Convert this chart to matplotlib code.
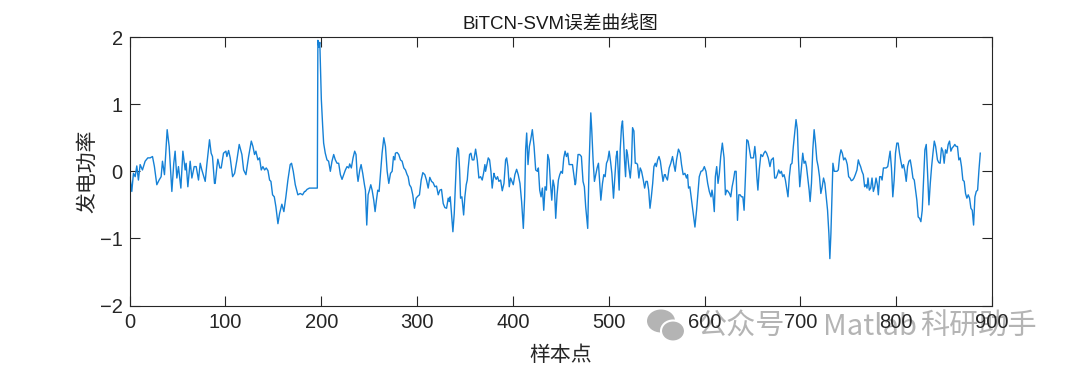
import numpy as np
import matplotlib
matplotlib.use("Agg")
import matplotlib.pyplot as plt
from matplotlib.patches import Ellipse

# 误差曲线 (样本点位置, 误差值) — 峰谷
sample = [
    0, 2.3, 4.0, 5.8, 7.5, 9.2, 11.0, 13.4, 16.2, 19.0, 21.4, 23.9, 25.9, 28.4, 30.8, 32.9, 34.3, 36.4,
    39.2, 41.3, 44.1, 46.1, 47.5, 49.3, 51.0, 53.5, 55.6, 58.0, 59.0, 60.8, 63.2, 65.0, 67.4, 69.5,
    71.9, 73.7, 75.4, 78.9, 80.6, 83.4, 85.1, 86.5, 88.6,
    89.3, 91.1, 92.1, 94.2, 95.6, 98.0, 100.5, 101.5, 103.3, 105.0, 107.5, 109.6, 112.0, 114.4, 117.2,
    119.0, 121.4, 124.2, 127.0, 128.7, 130.4, 131.8, 133.9, 135.6, 137.4, 139.1, 140.9, 142.6, 144.4,
    146.1, 147.5, 149.2, 151.0, 152.7, 154.8, 156.5, 158.9, 161.0, 163.1, 165.2, 167.6, 169.0, 170.8,
    172.9, 175.6, 178.1, 180.5, 182.6,
    183.4, 185.1, 187.6, 190.4, 193.8, 195.9, 196.5, 197.5, 198.5, 200.1, 201.5, 202.5, 204.2, 206.0,
    207.7, 209.5, 211.2, 213.0, 214.7, 216.5, 218.2, 220.0, 221.7, 223.4, 225.2, 226.9, 228.7, 229.7,
    231.4, 233.2, 234.9, 236.3, 237.4, 238.4, 240.2, 241.6, 243.3, 245.1, 246.1, 247.5, 248.9, 250.3,
    251.7, 253.1, 254.8, 256.2, 257.6, 259.0, 260.4, 261.8, 263.5, 265.3, 267.0, 268.8, 270.5, 272.3,
    274.0, 275.4, 276.8,
    277.4, 279.2, 280.9, 282.7, 284.4, 286.2, 287.9, 289.6, 290.7, 292.1, 293.8, 295.5, 297.3, 299.0,
    300.8, 302.5, 304.3, 306.0, 308.1, 309.8, 311.6, 313.3, 315.1, 316.8, 318.6, 320.3, 322.1, 323.8,
    325.5, 327.3, 329.0, 330.8, 332.5, 333.6, 334.6, 336.0, 337.4, 338.8, 340.2, 341.2, 342.3, 343.3,
    344.4, 345.4, 346.8, 348.6, 349.9, 351.3, 352.4, 353.4, 354.8, 356.2, 357.6, 359.3, 361.1, 362.8,
    364.5, 366.3, 368.0, 369.4, 370.8,
    371.5, 372.5, 374.3, 375.7, 377.1, 378.4, 380.2, 381.2, 382.6, 384.0, 385.4, 387.2, 388.9, 390.7,
    392.4, 393.5, 394.8, 396.2, 397.6, 399.0, 400.4, 402.1, 403.9, 405.6, 407.4, 409.1, 410.9, 412.3,
    413.3, 414.4, 415.8, 417.2, 418.6, 420.3, 422.1, 423.8, 425.6, 426.6, 428.0, 429.4, 430.8, 432.2,
    433.6, 435.0, 436.4, 437.8, 439.2, 440.6, 441.9, 443.3, 444.7, 446.1, 447.5, 448.9, 450.3, 451.7,
    453.1, 454.5, 455.9, 457.3, 458.7, 460.4, 462.2, 463.6, 465.0,
    465.5, 466.6, 468.0, 469.7, 471.5, 473.2, 474.6, 476.0, 478.1, 479.5, 481.3, 482.3, 483.7, 485.1,
    486.5, 487.9, 489.3, 490.7, 491.8, 493.5, 494.9, 496.3, 497.7, 499.1, 500.5, 501.9, 503.3, 505.0,
    506.4, 507.8, 508.9, 509.9, 510.9, 512.0, 513.4, 514.4, 515.5, 516.5, 517.6, 518.6, 519.7, 521.1,
    522.5, 523.8, 524.9, 526.3, 527.7, 529.1, 530.1, 531.5, 532.9, 534.3, 536.1, 537.5, 538.9, 540.3,
    541.7, 543.1, 544.5, 545.9, 547.2, 548.6, 549.7, 551.1, 552.5, 553.9, 555.3, 556.7, 558.1, 559.1,
    559.6, 561.3, 563.1, 564.8, 566.6, 568.0, 569.4, 570.8, 572.8, 574.6, 576.0, 577.7, 579.5, 581.2,
    582.3, 583.3, 584.7, 586.5, 588.2, 590.0, 591.7, 593.1, 594.5, 596.3, 598.0, 599.8, 601.5, 603.3,
    605.0, 606.8, 607.8, 608.9, 610.2, 611.3, 612.7, 614.1, 615.5, 616.9, 618.6, 620.4, 621.8, 623.2,
    624.6, 626.0, 627.4, 628.8, 630.2, 631.6, 633.0, 634.4, 635.8, 637.2, 638.6, 640.0, 641.3, 642.7,
    644.1, 645.5, 646.9, 648.3, 649.7, 651.1, 652.5, 653.5,
    654.6, 655.7, 657.1, 658.8, 660.6, 662.0, 663.4, 664.8, 666.5, 668.3, 669.7, 671.8, 673.2, 674.6,
    676.0, 677.4, 678.8, 680.2, 681.6, 683.0, 684.4, 685.7, 687.1, 688.5, 689.9, 691.3, 692.7, 694.1,
    695.5, 696.9, 698.0, 699.4, 700.8, 702.5, 703.9, 705.3, 706.4, 707.8, 709.2, 710.2, 711.6, 713.0,
    714.4, 715.8, 717.2, 718.6, 720.0, 721.4, 722.8, 724.2, 725.6, 727.0, 728.4, 729.8, 730.8, 731.9,
    732.9, 734.0, 735.4, 736.8, 738.2, 739.6, 741.0, 742.4, 743.8, 745.2, 746.6, 747.7,
    749.0, 750.4, 751.8, 753.2, 754.6, 756.0, 757.4, 759.1, 760.5, 761.5, 762.9, 764.3, 765.7, 767.1,
    768.5, 769.6, 770.6, 772.0, 773.4, 774.8, 776.2, 777.6, 779.0, 780.4, 781.4, 782.8, 784.2, 785.3,
    786.7, 788.1, 789.5, 791.2, 792.6, 793.7, 795.1, 796.5, 797.9, 799.3, 800.7, 802.1, 803.5, 804.9,
    806.3, 807.7, 809.1, 810.5, 811.9, 813.3, 814.7, 816.1, 817.5, 818.9, 820.2, 821.6, 823.0, 824.4,
    825.8, 827.2, 828.6, 830.0, 831.4, 832.8, 834.2, 835.6, 837.0, 838.4, 839.8, 841.2,
    843.1, 844.5, 845.9, 847.3, 848.7, 850.1, 851.5, 852.9, 854.3, 855.7, 857.1, 858.5, 859.9, 861.2,
    862.6, 864.0, 865.4, 866.8, 868.2, 869.6, 871.0, 872.4, 873.8, 875.2, 876.6, 878.0, 879.4, 880.8,
    882.2, 883.6, 885.0, 886.4, 887.8,
]
error = [
    -0.03, -0.30, -0.03, -0.08, 0.08, -0.13, 0.10, 0.02, 0.15, 0.20, 0.20, 0.22, 0.07, -0.20, -0.13, -0.08, 0.15, -0.05,
    0.62, 0.37, -0.30, 0.12, 0.30, -0.10, 0.07, -0.25, 0.30, 0.02, 0.12, -0.23, 0.15, -0.10, 0.07, 0.07,
    -0.13, 0.12, 0.02, -0.15, 0.10, 0.47, 0.27, 0.22, -0.18,
    -0.18, 0.07, 0.18, 0.05, 0.05, 0.27, 0.30, 0.22, 0.31, 0.20, -0.08, -0.03, 0.17, 0.40, 0.25,
    0.02, -0.05, 0.22, 0.45, 0.37, 0.25, 0.30, 0.17, 0.20, 0.02, 0.07, 0.02, 0.05, 0.01,
    -0.13, -0.15, -0.35, -0.38, -0.53, -0.78, -0.63, -0.49, -0.60, -0.38, -0.13, 0.10, 0.12, 0.00,
    -0.20, -0.35, -0.33, -0.35, -0.30,
    -0.30, -0.27, -0.25, -0.25, -0.25, -0.25, 1.95, 1.85, 1.92, 1.07, 0.67, 0.42, 0.27, 0.17,
    0.15, 0.00, 0.15, 0.25, 0.17, 0.12, 0.12, -0.05, -0.12, -0.05, 0.02, 0.07, 0.05, 0.11,
    0.05, 0.20, 0.30, 0.25, -0.03, -0.15, 0.02, 0.10, -0.03, -0.20, -0.28, -0.80, -0.35, -0.28,
    -0.20, -0.28, -0.43, -0.60, -0.43, -0.28, -0.30, -0.05, 0.27, 0.50, 0.37, 0.00, -0.18, -0.03,
    0.00, 0.22, 0.17,
    0.27, 0.28, 0.25, 0.17, 0.15, 0.05, 0.02, -0.05, -0.08, -0.20, -0.24, -0.35, -0.55, -0.40,
    -0.37, -0.35, -0.13, -0.02, -0.05, -0.13, -0.25, -0.09, -0.15, -0.17, -0.23, -0.22, -0.35, -0.28,
    -0.27, -0.48, -0.54, -0.55, -0.40, -0.45, -0.38, -0.63, -0.90, -0.63, -0.13, 0.20, 0.35, 0.32,
    0.02, -0.40, -0.38, -0.65, -0.38, -0.20, -0.13, 0.05, 0.25, 0.27, 0.17, 0.17, 0.33, 0.17,
    -0.10, -0.08, -0.13, -0.03, 0.10,
    0.00, 0.07, 0.20, 0.17, 0.00, -0.25, -0.03, -0.08, -0.12, -0.08, -0.15, -0.13, -0.29, -0.18,
    0.17, 0.20, 0.07, -0.23, -0.10, -0.15, -0.20, -0.05, 0.03, -0.05, -0.18, -0.45, -0.85, -0.38,
    0.32, 0.57, 0.10, 0.37, 0.47, 0.62, 0.37, 0.02, 0.00, 0.05, -0.28, -0.38, -0.25, -0.58,
    -0.23, -0.28, 0.25, 0.17, -0.18, -0.43, -0.13, -0.23, -0.70, -0.35, -0.13, -0.05, 0.00, -0.03,
    0.20, 0.30, 0.22, 0.27, 0.10, 0.10, 0.10, -0.05, -0.20,
    -0.18, 0.02, 0.25, 0.25, 0.22, -0.15, -0.23, -0.53, -0.85, 0.07, 0.87, 0.62, 0.17, -0.15,
    -0.05, 0.05, 0.12, -0.20, -0.43, -0.18, -0.05, -0.08, 0.12, 0.17, 0.30, 0.15, -0.03, -0.40,
    -0.08, 0.22, 0.30, 0.02, -0.28, 0.32, 0.67, 0.75, 0.47, 0.17, -0.08, 0.32, 0.25, 0.05,
    -0.10, 0.12, 0.65, 0.60, 0.12, 0.12, 0.10, -0.10, 0.05, 0.00, -0.13, -0.25, -0.15, -0.15,
    -0.28, -0.55, -0.38, -0.18, 0.07, 0.12, 0.07, 0.17, 0.22, 0.15, 0.00, -0.15, -0.05, -0.05,
    -0.08, -0.13, 0.05, 0.12, 0.22, 0.10, 0.00, 0.17, 0.33, 0.27, 0.10, -0.05, -0.03, -0.10,
    -0.05, -0.25, -0.23, -0.43, -0.63, -0.83, -0.58, -0.33, -0.08, 0.00, 0.01, 0.07, 0.00, -0.18,
    -0.30, -0.38, -0.28, -0.38, -0.60, -0.08, 0.07, -0.18, -0.03, 0.22, 0.42, 0.20, -0.35, -0.28,
    -0.30, -0.33, -0.38, -0.23, -0.13, 0.00, 0.00, -0.73, -0.35, -0.35, -0.38, -0.38, -0.58, -0.08,
    0.47, 0.45, 0.32, 0.20, 0.20, 0.20, 0.37, 0.22,
    -0.08, -0.28, 0.02, 0.25, 0.22, 0.27, 0.30, 0.27, 0.20, 0.07, 0.17, 0.20, -0.10, -0.10,
    -0.05, 0.02, -0.03, 0.00, -0.08, -0.05, -0.13, -0.25, -0.38, -0.08, 0.10, 0.12, 0.37, 0.57,
    0.77, 0.62, 0.17, -0.23, 0.00, 0.27, 0.12, 0.15, 0.07, -0.10, -0.28, -0.45, -0.18, 0.32,
    0.62, 0.42, 0.17, 0.07, -0.08, -0.33, -0.23, -0.10, -0.18, -0.38, -0.58, -0.93, -1.30, -0.93,
    -0.43, 0.12, 0.00, 0.00, 0.00, 0.02, 0.22, 0.32, 0.27, 0.17, 0.20, 0.17,
    0.10, -0.08, -0.10, -0.14, -0.13, -0.10, -0.05, 0.02, 0.17, 0.12, 0.07, 0.00, -0.05, -0.23,
    -0.20, -0.25, -0.10, -0.28, -0.25, -0.10, -0.30, -0.23, -0.10, -0.20, -0.35, -0.08, -0.08, -0.13,
    0.05, 0.05, 0.05, 0.07, 0.20, 0.30, 0.05, -0.38, -0.13, 0.27, 0.42, 0.42, 0.27, 0.15,
    0.05, 0.10, 0.00, -0.15, 0.07, 0.15, 0.17, 0.05, -0.10, -0.13, -0.28, -0.43, -0.68, -0.70,
    -0.75, -0.58, -0.13, 0.32, 0.40, -0.03, -0.50, -0.18, 0.07, 0.27, 0.45, 0.37,
    0.17, 0.13, 0.12, 0.35, 0.30, 0.12, 0.32, 0.27, 0.40, 0.45, 0.30, 0.35, 0.37, 0.40,
    0.37, 0.37, 0.17, 0.20, 0.07, -0.13, -0.15, -0.33, -0.40, -0.35, -0.40, -0.55, -0.58, -0.80,
    -0.38, -0.30, -0.28, 0.02, 0.27,
]

xticks = list(range(0, 901, 100))
yticks = [-2, -1, 0, 1, 2]

plt.rcParams['font.family'] = ['Liberation Sans', 'Noto Sans CJK SC', 'DejaVu Sans']

W, H = 1080, 370
fig = plt.figure(figsize=(W / 100, H / 100), dpi=100)
ax = fig.add_axes([0.12, 0.174, 0.7985, 0.726])
ax.plot(sample, error, color='#1581d6', linewidth=1.0)

ax.set_xlim(0, 900)
ax.set_ylim(-2, 2)
ax.set_xticks(xticks)
ax.set_yticks(yticks)
ax.tick_params(direction='in', length=7, width=0.8, top=True, right=True,
               labelsize=14.5, colors='#262626', pad=5)
for sp in ax.spines.values():
    sp.set_color('#262626')
    sp.set_linewidth(0.8)

ax.set_title('BiTCN-SVM误差曲线图', fontsize=13.5, color='#1a1a1a', pad=6)
ax.set_xlabel('样本点', fontsize=15, color='#262626', labelpad=10)
ax.set_ylabel('发电功率', fontsize=15, color='#262626', labelpad=2)

# 水印 (在刻度标签下层)
wm = '#b4b4b4'
fig.patches.append(Ellipse((661 / W, 1 - 321 / H), 28 / W, 23 / H, transform=fig.transFigure,
                           facecolor=wm, edgecolor='none', zorder=-2))
fig.patches.append(Ellipse((673 / W, 1 - 331 / H), 24 / W, 21 / H, transform=fig.transFigure,
                           facecolor=wm, edgecolor='white', linewidth=1.5, zorder=-2))
for xp, s in [(698, '公众号'), (823, 'Matlab'), (920, '科研助手')]:
    fig.text(xp / W, 1 - 327 / H, s, fontsize=21, color=wm, family='Noto Sans CJK SC',
             ha='left', va='center', zorder=-1)

fig.savefig('out.png', dpi=100)
